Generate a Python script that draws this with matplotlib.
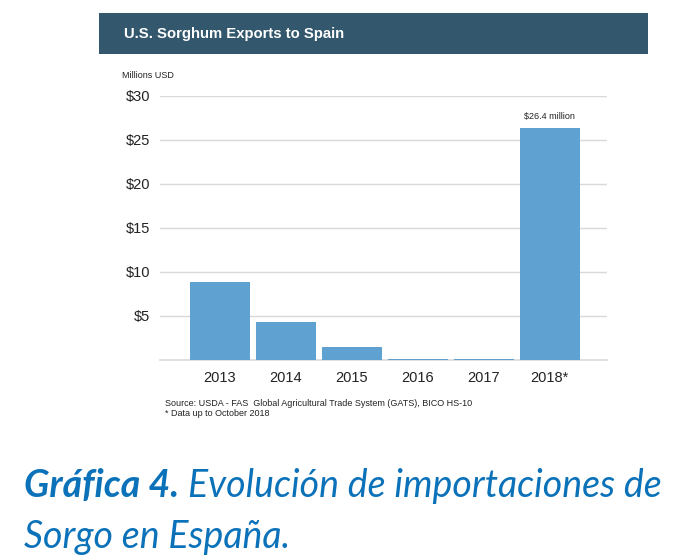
import matplotlib
matplotlib.use("Agg")
import matplotlib.pyplot as plt
from matplotlib.patches import Rectangle

years = ["2013", "2014", "2015", "2016", "2017", "2018*"]
values = [8.9, 4.3, 1.5, 0.1, 0.1, 26.4]
yticks = [5, 10, 15, 20, 25, 30]
ytick_labels = ["$5", "$10", "$15", "$20", "$25", "$30"]

bar_color = "#5fa2d2"
header_color = "#33586d"
caption_color = "#0b72b9"
font = ["Liberation Sans", "DejaVu Sans"]
plt.rcParams["font.family"] = font

fig = plt.figure(figsize=(7.0, 5.59), dpi=100)
fig.patch.set_facecolor("white")

# header band
fig.patches.append(Rectangle((99/700, 1-54/559), (648-99)/700, 41/559,
                             transform=fig.transFigure, facecolor=header_color,
                             edgecolor="none", zorder=0))
fig.text(124/700, 1-34/559, "U.S. Sorghum Exports to Spain", color="white",
         fontsize=10.7, fontweight="bold", va="center", ha="left")

ax = fig.add_axes([160/700, 1-360/559, (607-160)/700, 264/559])
x = list(range(len(years)))
ax.bar(x, values, width=0.91, color=bar_color, zorder=3)
ax.set_xlim(-0.91, 5.87)
ax.set_ylim(0, 30)
ax.set_yticks(yticks)
ax.set_yticklabels(ytick_labels)
ax.set_xticks(x)
ax.set_xticklabels(years)
ax.tick_params(axis="y", length=0, pad=7, labelsize=10.5, colors="#222222")
ax.tick_params(axis="x", length=0, pad=8, labelsize=10.5, colors="#222222")
ax.yaxis.grid(True, color="#d9d9d9", linewidth=1, zorder=0)
for s in ["top", "right", "left"]:
    ax.spines[s].set_visible(False)
ax.spines["bottom"].set_color("#d9d9d9")
ax.spines["bottom"].set_linewidth(1.2)
ax.set_axisbelow(True)

ax.text(5, values[5] + 0.8, "$26.4 million", ha="center", va="bottom",
        fontsize=6.5, color="#222222")
fig.text(122/700, 1-75/559, "Millions USD", fontsize=6.5, color="#222222",
         ha="left", va="center")
fig.text(165/700, 1-403/559, "Source: USDA - FAS  Global Agricultural Trade System (GATS), BICO HS-10",
         fontsize=6.5, color="#222222", ha="left", va="center")
fig.text(165/700, 1-414/559, "* Data up to October 2018",
         fontsize=6.5, color="#222222", ha="left", va="center")

# caption
cap_font = ["Lato", "DejaVu Sans"]
t1 = fig.text(24/700, 1-497/559, "Gráfica 4.", fontsize=27, color=caption_color,
              style="italic", fontweight="bold", family=cap_font, ha="left", va="baseline")
fig.canvas.draw()
bb = t1.get_window_extent()
fig.text((bb.x1 + 9)/700, 1-497/559, "Evolución de importaciones de", fontsize=27,
         color=caption_color, style="italic", fontweight="normal", family=cap_font,
         ha="left", va="baseline")
fig.text(24/700, 1-548/559, "Sorgo en España.", fontsize=27, color=caption_color,
         style="italic", fontweight="normal", family=cap_font, ha="left", va="baseline")

fig.savefig("out.png", dpi=100, facecolor="white")
